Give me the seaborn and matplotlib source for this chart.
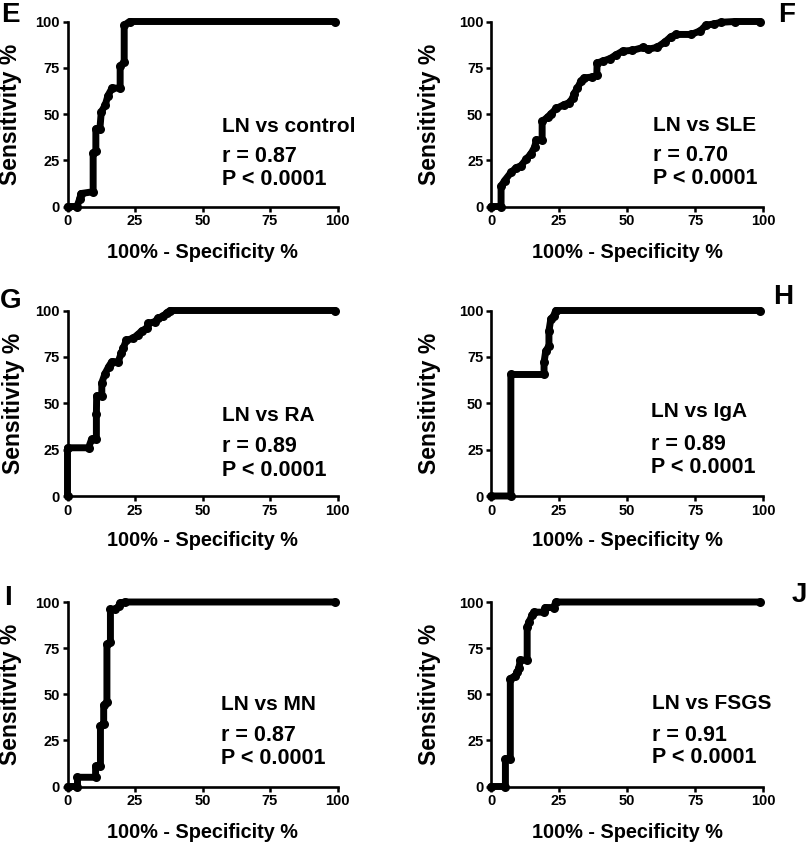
import matplotlib
matplotlib.use("Agg")
import matplotlib.pyplot as plt
import seaborn as sns
import pandas as pd

# ---- data ----
ticks = [0, 25, 50, 75, 100]
tick_labels = ["0", "25", "50", "75", "100"]
panel_letters = ["E", "F", "G", "H", "I", "J"]
comparisons = ["LN vs control", "LN vs SLE", "LN vs RA", "LN vs IgA", "LN vs MN", "LN vs FSGS"]
r_values = ["0.87", "0.70", "0.89", "0.89", "0.87", "0.91"]
p_text = "P < 0.0001"
xlabel = "100% - Specificity %"
ylabel = "Sensitivity %"

e_x = [0, 3.5, 4.5, 5, 9.5, 9.5, 10.5, 10.5, 12, 12.5, 14, 15, 16.5, 19.5, 19.5, 21, 21, 23, 99]
e_y = [0, 0, 4, 7, 8, 29, 30, 42, 42, 51, 55, 60, 64, 64, 76, 78, 98, 100, 100]

f_x = [0, 3.7, 3.7, 5, 7.4, 9.3, 11, 12.9, 14.7, 16, 16.7, 18.8, 18.8, 21, 22, 24, 26.8, 28.6, 30,
       30.5, 31.8, 33, 34.2, 37.3, 38.9, 39, 41, 43.8, 46, 48.4, 52, 56, 57.7, 61, 64, 66, 68, 73.6,
       77, 79, 82, 84.7, 89.6, 99]
f_y = [0, 0, 11, 14, 18.5, 21, 22, 25.5, 28.5, 32, 36, 36, 46, 48.5, 50, 53, 55, 56, 58.5,
       61, 64, 67.6, 69.5, 70, 71, 77.6, 78.5, 80, 82, 84, 84.4, 86, 85, 86, 89, 91.6, 93, 93,
       95, 98, 98.7, 99.6, 100, 100]

g_x = [0, 0, 7.8, 8.9, 10.7, 10.7, 10.8, 12.7, 12.7, 13.9, 15.2, 16.4, 18.8, 19.9, 20.6, 21.8,
       24.3, 26, 27.5, 29.3, 29.9, 32.4, 33.6, 35.5, 36.7, 38, 99]
g_y = [0, 26, 26, 30.5, 30.5, 44, 54, 54, 61, 66, 69.6, 72.4, 72.4, 77, 79.6, 84,
       85, 87, 89, 90.5, 93, 94, 96, 97, 98.7, 100, 100]

h_x = [0, 7.3, 7.3, 19.5, 19.5, 20.1, 21.3, 21.3, 22, 23, 23.8, 99]
h_y = [0, 0, 65.5, 65.5, 72, 78, 81, 89, 95.5, 97, 100, 100]

i_x = [0, 3.7, 3.7, 10.4, 10.4, 12.2, 12.2, 13.4, 13.4, 14.6, 14.6, 15.9, 15.9, 17.7, 18.9, 19.5, 21.3, 99]
i_y = [0, 0, 5, 5, 11, 11, 33, 34, 44, 46, 77, 78.5, 96, 96, 97.6, 99.5, 100, 100]

j_x = [0, 5.3, 5.3, 7.1, 7.1, 9, 9.6, 10.2, 10.8, 13.3, 13.3, 13.9, 15.1, 15.8, 19.5, 20, 23, 23.8, 99]
j_y = [0, 0, 15, 15, 58.5, 60, 62, 64, 68.5, 68.5, 86.6, 89, 92.8, 94.5, 94.5, 97, 97, 100, 100]

curves_x = [e_x, f_x, g_x, h_x, i_x, j_x]
curves_y = [e_y, f_y, g_y, h_y, i_y, j_y]

# ---- layout (figure pixels) ----
W, H = 807, 844
sns.set_theme(style="ticks")
plt.rcParams["font.family"] = ["Liberation Sans", "DejaVu Sans"]
plt.rcParams["font.weight"] = "bold"
plt.rcParams["text.color"] = "black"
plt.rcParams["axes.labelcolor"] = "black"
plt.rcParams["xtick.color"] = "black"
plt.rcParams["ytick.color"] = "black"

fig = plt.figure(figsize=(W / 100, H / 100), dpi=100)
fig.patch.set_facecolor("white")

col_left = [(67.5, 337.5), (491, 763)]
rows = [(21.5, 206.5), (310.5, 496), (602, 786.5)]
ylabel_x = [[11, 429.5], [14, 429.5], [11, 429.5]]
xlabel_y = [253, 541, 832]
text_pos = [
    (57.3, [43.0, 27.0, 14.8]), (59.4, [44.0, 27.4, 15.0]),
    (57.3, [43.5, 26.5, 14.0]), (58.9, [45.5, 28.0, 15.6]),
    (56.8, [44.2, 27.5, 15.0]), (59.3, [44.9, 27.7, 15.7]),
]
letter_pos = [(1, 2), (778, 2), (0, 288), (773, 284), (4, 585), (792, 582)]

for k in range(6):
    r, c = divmod(k, 2)
    x0, x1 = col_left[c]
    ytop, ybot = rows[r]
    ax = fig.add_axes([x0 / W, (H - ybot) / H, (x1 - x0) / W, (ybot - ytop) / H])
    df = pd.DataFrame({"fpr": curves_x[k], "tpr": curves_y[k]})
    sns.lineplot(data=df, x="fpr", y="tpr", ax=ax, estimator=None, sort=False,
                 color="black", linewidth=5.0, marker="o", markersize=6.5,
                 markeredgewidth=0, clip_on=False, solid_joinstyle="round",
                 solid_capstyle="round")
    ax.set_xlim(0, 100)
    ax.set_ylim(0, 100)
    ax.set_xticks(ticks)
    ax.set_xticklabels(tick_labels)
    ax.set_yticks(ticks)
    ax.set_yticklabels(tick_labels)
    ax.tick_params(axis="both", direction="out", length=3.5, width=1.8,
                   labelsize=10.5, pad=2, color="black", labelcolor="black")
    for lab in ax.get_xticklabels() + ax.get_yticklabels():
        lab.set_fontweight("bold")
    for side in ["left", "bottom"]:
        ax.spines[side].set_linewidth(1.9)
        ax.spines[side].set_color("black")
    sns.despine(ax=ax)
    ax.set_facecolor("white")

    ax.set_xlabel(xlabel, fontsize=14.3, fontweight="bold", color="black")
    ax.xaxis.set_label_coords(0.5, -(xlabel_y[r] - ybot) / (ybot - ytop))
    ax.xaxis.label.set_va("center")
    ax.set_ylabel(ylabel, fontsize=16.5, fontweight="bold", color="black")
    ax.yaxis.set_label_coords(-(x0 - ylabel_x[r][c]) / (x1 - x0), 0.5)
    ax.yaxis.label.set_va("center")

    tx, tys = text_pos[k]
    ax.text(tx, tys[0], comparisons[k], fontsize=15, fontweight="bold", va="center", ha="left", color="black")
    ax.text(tx, tys[1], "r = " + r_values[k], fontsize=15.5, fontweight="bold", va="center", ha="left", color="black")
    ax.text(tx, tys[2], p_text, fontsize=15.5, fontweight="bold", va="center", ha="left", color="black")

    lx, ly = letter_pos[k]
    fig.text(lx / W, 1 - ly / H, panel_letters[k], fontsize=20, fontweight="bold",
             va="top", ha="left", color="black")

fig.savefig("out.png", dpi=100, facecolor="white")
